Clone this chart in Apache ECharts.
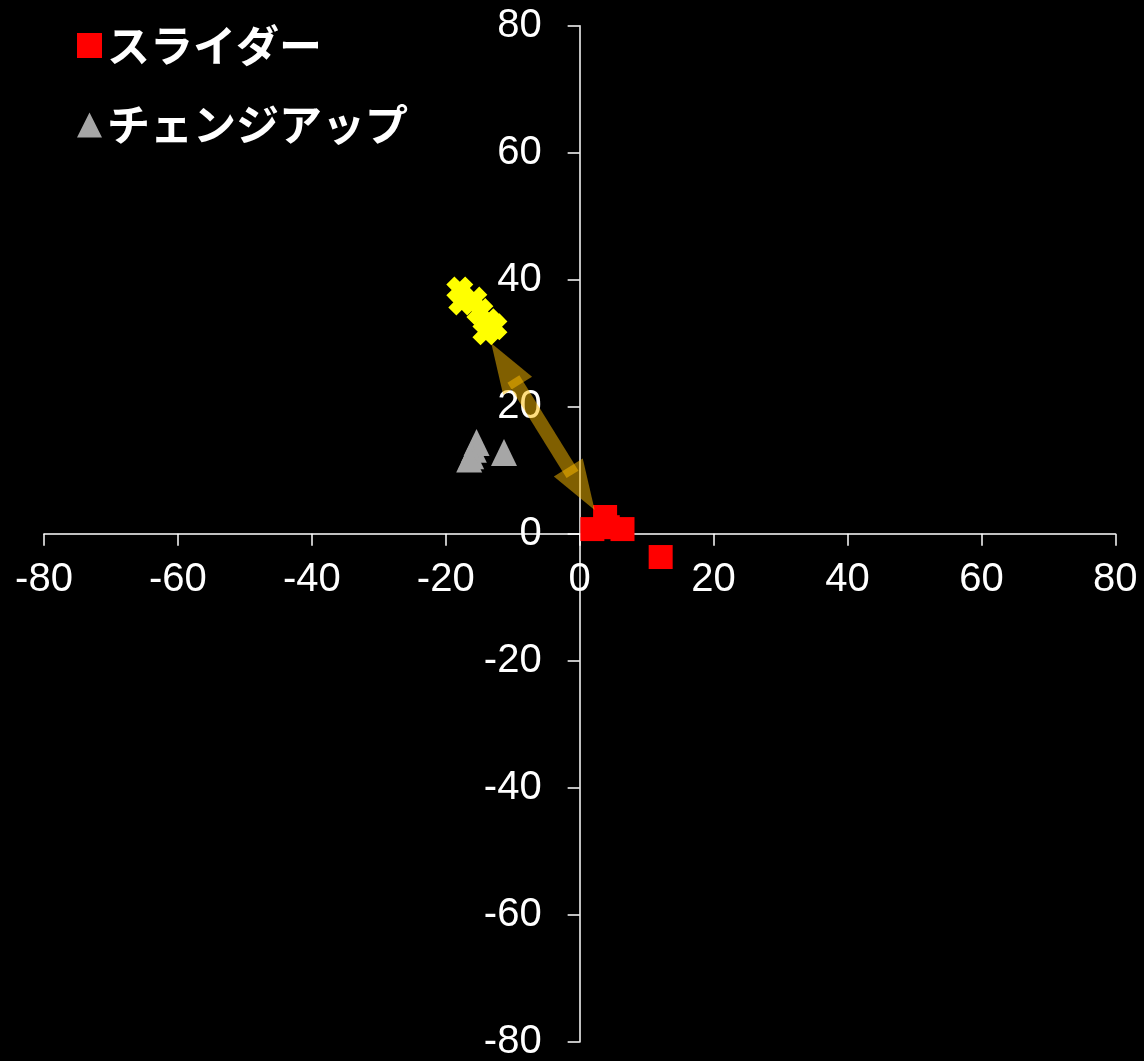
<!DOCTYPE html>
<html>
<head>
<meta charset="utf-8">
<script src="https://cdn.jsdelivr.net/npm/echarts@6/dist/echarts.min.js"></script>
<style>
html,body{margin:0;padding:0;background:#000;}
#chart{width:1144px;height:1061px;}
</style>
</head>
<body>
<div id="chart"></div>
<script>
// --- data ---
const xTicks = [-80, -60, -40, -20, 0, 20, 40, 60, 80];
const yTicks = [-80, -60, -40, -20, 0, 20, 40, 60, 80];
const seriesNames = ['スライダー', 'チェンジアップ', 'ストレート'];
const sliderX = [1.9, 3.8, 4.2, 6.4, 12.1];
const sliderY = [0.75, 2.65, 1.05, 0.75, -3.65];
const changeupX = [-15.4, -15.8, -16.2, -16.5, -11.3];
const changeupY = [14.4, 13.3, 12.3, 11.8, 12.8];
const fastX = [-17.9, -17.6, -15.8, -14.9, -13.7, -14.0, -12.8];
const fastY = [38.4, 36.5, 36.8, 35.0, 33.4, 31.8, 32.6];
const arrowFrom = [-13.2, 30.0];
const arrowTo = [2.24, 3.75];

const zip = (xs, ys) => xs.map((x, i) => [x, ys[i]]);
const xMark = 'path://M3,0 L5,2 L7,0 L10,3 L8,5 L10,7 L7,10 L5,8 L3,10 L0,7 L2,5 L0,3 Z';
// triangle arrowhead whose tip sits at the symbol centre
const headPath = 'path://M5,10 L10,20 L0,20 Z M5,0';
const HEAD_W = 34, HEAD_L = 50, SHAFT_W = 14, OVERLAP = 8;

const W = 1144, H = 1061;
const G = { left: 44, right: 28.7, top: 25.7, bottom: 19 };
const gridW = W - G.left - G.right, gridH = H - G.top - G.bottom;

const chart = echarts.init(document.getElementById('chart'));
const lbl = { color: '#fff', fontSize: 40, fontFamily: 'Liberation Sans, Arial, sans-serif' };
const axisCommon = {
  type: 'value', interval: 20,
  axisLine: { onZero: false, lineStyle: { color: '#fff', width: 1.5 } },
  axisTick: { show: true, inside: false, length: 12, lineStyle: { color: '#fff', width: 1.5 } },
  splitLine: { show: false }
};
const arrowColor = 'rgba(255,190,0,0.5)';
chart.setOption({
  backgroundColor: '#000',
  animation: false,
  grid: Object.assign({ containLabel: false, outerBoundsMode: 'none' }, G),
  legend: {
    data: [seriesNames[0], seriesNames[1]],
    orient: 'vertical', left: 72, top: 19,
    itemWidth: 25, itemHeight: 25, itemGap: 36.5,
    textStyle: { color: '#fff', fontSize: 43, fontWeight: 'bold', fontFamily: 'Noto Sans CJK JP' }
  },
  xAxis: Object.assign({}, axisCommon, {
    min: xTicks[0], max: xTicks[xTicks.length - 1], position: 'bottom',
    offset: -(gridH * (0 - yTicks[0]) / (yTicks[yTicks.length - 1] - yTicks[0])),
    axisLabel: Object.assign({}, lbl, { margin: 26 })
  }),
  yAxis: Object.assign({}, axisCommon, {
    min: yTicks[0], max: yTicks[yTicks.length - 1], position: 'left',
    offset: -(gridW * (0 - xTicks[0]) / (xTicks[xTicks.length - 1] - xTicks[0])),
    axisLabel: Object.assign({}, lbl, { margin: 38 })
  }),
  series: [
    { name: seriesNames[2], type: 'scatter', data: zip(fastX, fastY), symbol: xMark, symbolSize: 27, itemStyle: { color: '#ffff00', opacity: 1 } },
    { name: seriesNames[1], type: 'scatter', data: zip(changeupX, changeupY), symbol: 'triangle', symbolSize: [26, 27], itemStyle: { color: '#a6a6a6', opacity: 1 } },
    { name: seriesNames[0], type: 'scatter', data: zip(sliderX, sliderY), symbol: 'rect', symbolSize: 24, itemStyle: { color: '#ff0000', opacity: 1 } },
    { id: 'shaft', type: 'lines', coordinateSystem: 'cartesian2d', silent: true, z: 5,
      data: [{ coords: [arrowFrom, arrowTo] }], symbol: 'none',
      lineStyle: { color: arrowColor, width: SHAFT_W, opacity: 1, cap: 'butt' } },
    { id: 'heads', type: 'lines', coordinateSystem: 'cartesian2d', silent: true, z: 5,
      data: [{ coords: [arrowFrom, arrowTo] }],
      symbol: [headPath, headPath], symbolSize: [[HEAD_W, HEAD_L * 2], [HEAD_W, HEAD_L * 2]],
      lineStyle: { color: arrowColor, width: 0, opacity: 1 } }
  ]
});
// trim the shaft so it only slightly overlaps each arrowhead
const p1 = chart.convertToPixel({ gridIndex: 0 }, arrowFrom);
const p2 = chart.convertToPixel({ gridIndex: 0 }, arrowTo);
const L = Math.hypot(p2[0] - p1[0], p2[1] - p1[1]);
const g = HEAD_L - OVERLAP;
chart.setOption({ series: [{ id: 'shaft', lineStyle: { type: [L - 2 * g, 2 * g], dashOffset: L - g } }] });
</script>
</body>
</html>
